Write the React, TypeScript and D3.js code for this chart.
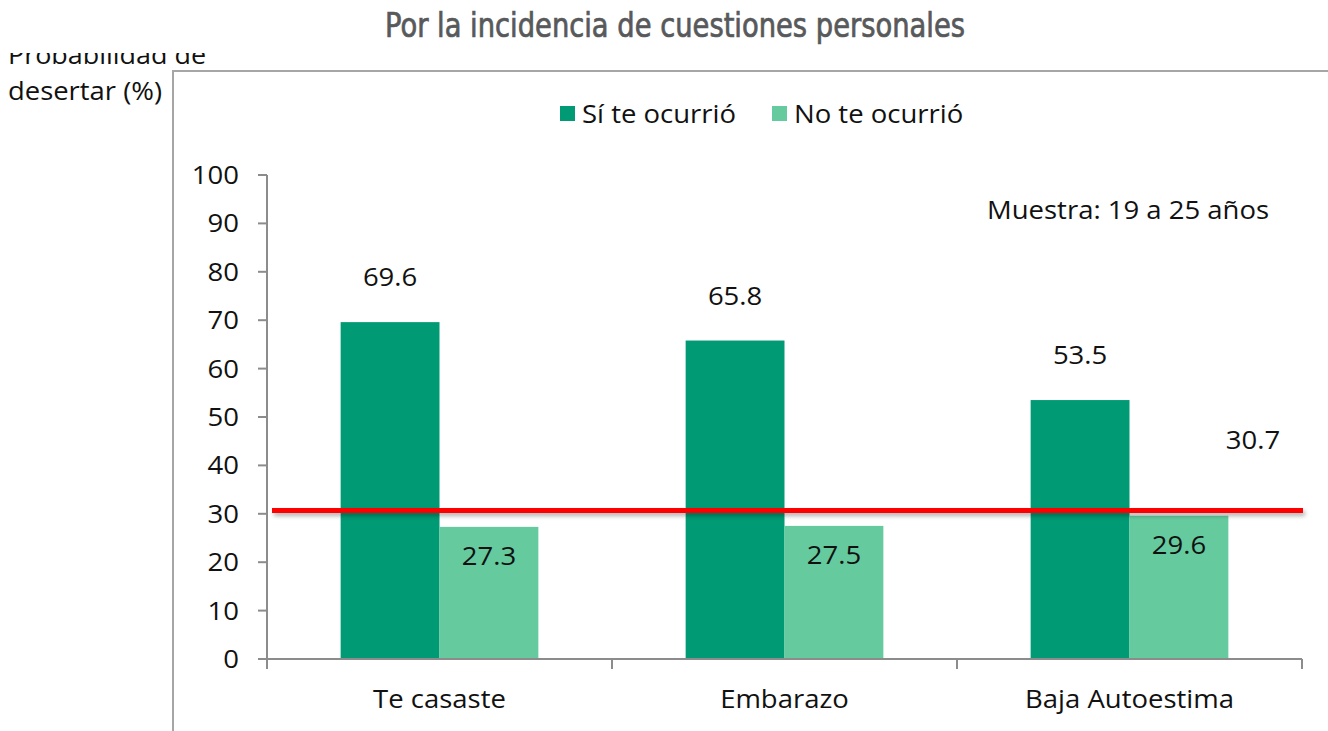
import React from 'react';
import * as d3 from 'd3';

const categories = ['Te casaste', 'Embarazo', 'Baja Autoestima'];
const siValues = [69.6, 65.8, 53.5];
const noValues = [27.3, 27.5, 29.6];
const promedio = 30.7;
const yTicks = [0, 10, 20, 30, 40, 50, 60, 70, 80, 90, 100];
const seriesNames = ['Sí te ocurrió', 'No te ocurrió'];
const colors = ['#009a74', '#65cb9e'];

const W = 1328;
const H = 731;
const FONT = '"Open Sans", Lato, sans-serif';
const SX = 1.1; // text in the source is a bit stretched horizontally

// text label, widened a little to match the source
const T = ({ x, y, anchor = 'start', size = 25, children }: any) => (
  <text transform={`translate(${x},${y}) scale(${SX},1)`} textAnchor={anchor}
    fontFamily={FONT} fontSize={size} fill="#111">{children}</text>
);

const App = () => {
  const x0 = 267;
  const x1 = 1302;
  const y0 = 659;
  const y1 = 175;

  const x = d3.scaleBand<string>().domain(categories).range([x0, x1]).paddingInner(0).paddingOuter(0);
  const inner = d3.scaleBand<number>().domain([0, 1]).range([0, x.bandwidth()]).paddingOuter(0.745).paddingInner(0);
  const y = d3.scaleLinear().domain([0, 100]).range([y0, y1]);

  const rows = categories.map((c, i) => ({ c, vals: [siValues[i], noValues[i]] }));
  const lastBand = x(categories[categories.length - 1])!;

  return (
    <svg width={W} height={H} style={{ position: 'absolute', left: 0, top: 0, background: '#fff' }}>
      <defs>
        <clipPath id="ylabclip">
          <rect x={0} y={53} width={260} height={100} />
        </clipPath>
        <filter id="shadow" filterUnits="userSpaceOnUse" x={0} y={480} width={W} height={60}>
          <feDropShadow dx="2" dy="3" stdDeviation="2" floodColor="#000" floodOpacity="0.3" />
        </filter>
      </defs>

      <text x={675} y={37} textAnchor="middle" fontFamily='"Liberation Sans Narrow", "DejaVu Sans Condensed", sans-serif'
        fontSize={33} fill="#58595b" stroke="#58595b" strokeWidth={0.7} textLength={580} lengthAdjust="spacingAndGlyphs">
        Por la incidencia de cuestiones personales
      </text>

      {/* y title */}
      <g fontFamily={FONT} fontSize={25} fill="#111">
        <text x={8} y={64} clipPath="url(#ylabclip)" textLength={198} lengthAdjust="spacingAndGlyphs">Probabilidad de</text>
        <text x={8} y={100} textLength={154} lengthAdjust="spacingAndGlyphs">desertar (%)</text>
      </g>

      {/* frame */}
      <path d={`M173,${H} V71 H${W}`} fill="none" stroke="#a6a6a6" strokeWidth={2} />

      {/* legend */}
      {seriesNames.map((s, i) => {
        const lx = i === 0 ? 560 : 772;
        return (
          <g key={s}>
            <rect x={lx} y={106} width={15} height={15} fill={colors[i]} />
            <T x={lx + 22} y={123}>{s}</T>
          </g>
        );
      })}

      {/* bars */}
      {rows.map(r => (
        <g key={r.c} transform={`translate(${x(r.c)},0)`}>
          {r.vals.map((v, j) => (
            <rect key={j} x={inner(j)} y={y(v)} width={inner.bandwidth()} height={y0 - y(v)} fill={colors[j]} />
          ))}
          <T x={inner(0)! + inner.bandwidth() / 2} y={y(r.vals[0]) - 36} anchor="middle">{r.vals[0].toFixed(1)}</T>
          <T x={inner(1)! + inner.bandwidth() / 2} y={y(r.vals[1]) + 38} anchor="middle">{r.vals[1].toFixed(1)}</T>
        </g>
      ))}

      {/* axes */}
      <g stroke="#8c8c8c" strokeWidth={2} fill="none">
        <line x1={x0} x2={x0} y1={y1} y2={y0} />
        {yTicks.map(t => <line key={t} x1={x0 - 9} x2={x0} y1={y(t)} y2={y(t)} />)}
        <line x1={x0} x2={x1} y1={y0} y2={y0} />
        {[...categories.map(c => x(c)!), x1].map((p, i) => <line key={i} x1={p} x2={p} y1={y0} y2={y0 + 10} />)}
      </g>
      {yTicks.map(t => (
        <T key={t} x={239} y={y(t) + 9} anchor="end">{t}</T>
      ))}
      {categories.map(c => (
        <T key={c} x={x(c)! + x.bandwidth() / 2} y={708} anchor="middle">{c}</T>
      ))}

      {/* average line */}
      <line x1={272} x2={x1 + 1} y1={y(promedio)} y2={y(promedio)} stroke="#ff0000" strokeWidth={5}
        filter="url(#shadow)" />
      <T x={lastBand + x.bandwidth() - 49} y={y(promedio) - 61} anchor="middle">{promedio.toFixed(1)}</T>

      <T x={987} y={219}>Muestra: 19 a 25 años</T>
    </svg>
  );
};

export default App;
